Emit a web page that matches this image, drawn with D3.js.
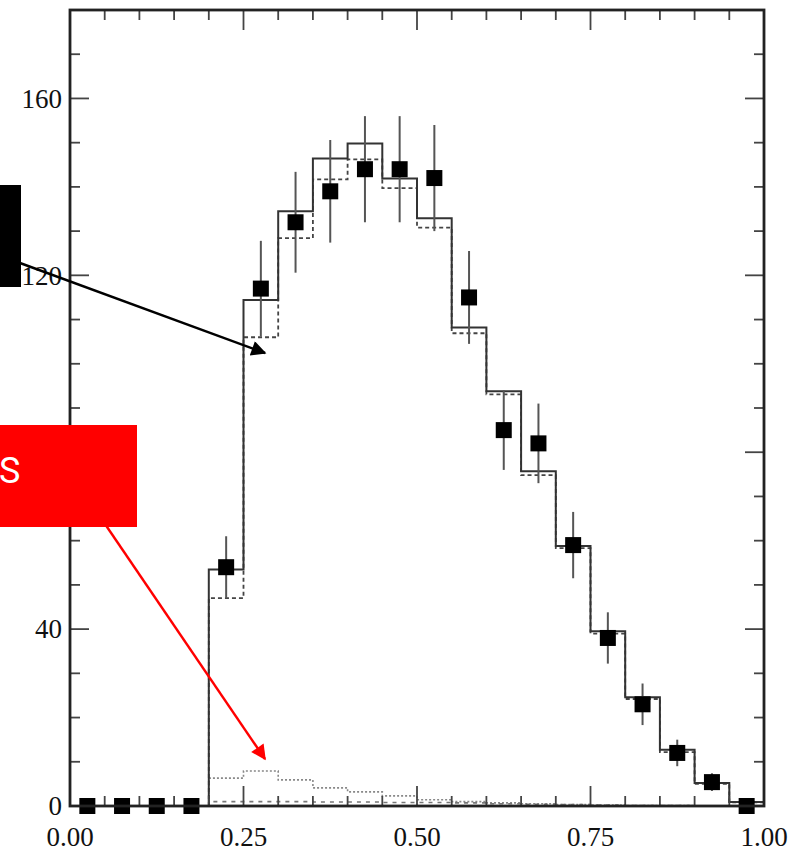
<!DOCTYPE html>
<html>
<head>
<meta charset="utf-8">
<script src="https://cdn.jsdelivr.net/npm/d3@7"></script>
<style>
  html, body { margin: 0; padding: 0; background: #fff; }
  svg { display: block; }
</style>
</head>
<body>
<svg id="chart" width="796" height="852"></svg>
<script>
// Bin lower edges (width 0.05) over [0, 1]
const binEdges = [0.00, 0.05, 0.10, 0.15, 0.20, 0.25, 0.30, 0.35, 0.40, 0.45,
                  0.50, 0.55, 0.60, 0.65, 0.70, 0.75, 0.80, 0.85, 0.90, 0.95];
const binWidth = 0.05;

// Measured counts per bin
const dataCounts = [0, 0, 0, 0, 54, 117, 132, 139, 144, 144,
                    142, 115, 85, 82, 59, 38, 23, 12, 5.4, 0];
const dataErrors = [0, 0, 0, 0, 7, 10.8, 11.4, 11.6, 12, 12,
                    12, 10.5, 9, 9, 7.5, 5.8, 4.7, 3, 2, 0];

// Total prediction (solid)
const totalPred = [0, 0, 0, 0, 53.5, 114.4, 134.5, 146.4, 149.8, 141.9,
                   132.9, 108.2, 93.8, 75.7, 58.8, 39.5, 24.6, 12.7, 5.2, 0.9];
// Signal prediction (dashed)
const signalPred = [0, 0, 0, 0, 47, 106, 128.4, 141.7, 146.2, 139.7,
                    130.8, 106.9, 93.1, 74.8, 58.3, 39, 24.2, 12.2, 5, 0.8];
// Background component (dotted)
const bkgPred = [0, 0, 0, 0, 6.3, 7.9, 5.9, 4.1, 3.2, 2.3,
                 1.4, 1.0, 0.7, 0.5, 0.3, 0.2, 0.1, 0.1, 0.05, 0];
// Small secondary component (dashed, near zero)
const bkg2Pred = [0, 0, 0, 0, 1.0, 1.0, 1.0, 0.9, 0.9, 0.8,
                  0.8, 0.7, 0.5, 0.4, 0.3, 0.2, 0.1, 0.1, 0, 0];

const xTickLabels = ["0.00", "0.25", "0.50", "0.75", "1.00"];
const yTickValues = [0, 40, 80, 120, 160];

const svg = d3.select("#chart");
const plotL = 70, plotR = 764, plotT = 10, plotB = 806;

const x = d3.scaleLinear().domain([0, 1]).range([plotL, plotR]);
const y = d3.scaleLinear().domain([0, 180]).range([plotB, plotT]);

const frameColor = "#222";
const labelFont = "'Liberation Serif', 'Times New Roman', serif";

// Step outline for a histogram, starting from the first non-empty bin
function stepPoints(values) {
  const first = values.findIndex(v => v > 0);
  const pts = [[binEdges[first], 0]];
  for (let i = first; i < values.length; i++) pts.push([binEdges[i], values[i]]);
  pts.push([1.0, values[values.length - 1]]);
  pts.push([1.0, 0]);
  return pts;
}
const stepLine = d3.line()
  .x(d => x(d[0]))
  .y(d => y(d[1]))
  .curve(d3.curveStepAfter);

const hist = svg.append("g").attr("fill", "none");

hist.append("path")
  .attr("d", stepLine(stepPoints(bkgPred)))
  .attr("stroke", "#888")
  .attr("stroke-width", 1.6)
  .attr("stroke-dasharray", "2,2");

hist.append("path")
  .attr("d", stepLine(stepPoints(bkg2Pred)))
  .attr("stroke", "#777")
  .attr("stroke-width", 1.6)
  .attr("stroke-dasharray", "4,5");

hist.append("path")
  .attr("d", stepLine(stepPoints(signalPred)))
  .attr("stroke", "#444")
  .attr("stroke-width", 1.8)
  .attr("stroke-dasharray", "4,3");

hist.append("path")
  .attr("d", stepLine(stepPoints(totalPred)))
  .attr("stroke", "#333")
  .attr("stroke-width", 2);

// Data points with error bars
const pts = svg.append("g");
binEdges.forEach((e, i) => {
  const cx = x(e + binWidth / 2);
  if (dataErrors[i] > 0) {
    pts.append("line")
      .attr("x1", cx).attr("x2", cx)
      .attr("y1", y(dataCounts[i] - dataErrors[i]))
      .attr("y2", y(dataCounts[i] + dataErrors[i]))
      .attr("stroke", "#555")
      .attr("stroke-width", 2);
  }
  pts.append("rect")
    .attr("x", cx - 8).attr("y", y(dataCounts[i]) - 8)
    .attr("width", 16).attr("height", 16)
    .attr("fill", "#000");
});

// Frame with inward ticks on all four sides
const axes = svg.append("g").attr("stroke", frameColor);
const xMinor = d3.range(0, 21).map(i => i * 0.05);
const yMinor = d3.range(0, 19).map(i => i * 10);

xMinor.forEach(v => {
  const major = Math.round(v * 100) % 25 === 0;
  const len = major ? 20 : 10;
  if (v === 0 || v === 1) return;
  axes.append("line").attr("x1", x(v)).attr("x2", x(v))
    .attr("y1", plotB).attr("y2", plotB - len).attr("stroke-width", 1.8).attr("stroke", "#444");
  axes.append("line").attr("x1", x(v)).attr("x2", x(v))
    .attr("y1", plotT).attr("y2", plotT + len).attr("stroke-width", 1.8).attr("stroke", "#444");
});
yMinor.forEach(v => {
  const major = v % 40 === 0;
  const len = major ? 19 : 10;
  if (v === 0) return;
  axes.append("line").attr("x1", plotL).attr("x2", plotL + len)
    .attr("y1", y(v)).attr("y2", y(v)).attr("stroke-width", 1.8).attr("stroke", "#444");
  axes.append("line").attr("x1", plotR).attr("x2", plotR - len)
    .attr("y1", y(v)).attr("y2", y(v)).attr("stroke-width", 1.8).attr("stroke", "#444");
});

axes.append("rect")
  .attr("x", plotL).attr("y", plotT)
  .attr("width", plotR - plotL).attr("height", plotB - plotT)
  .attr("fill", "none")
  .attr("stroke-width", 2.8);

// Tick labels
const labels = svg.append("g")
  .attr("font-family", labelFont)
  .attr("font-size", 27)
  .attr("fill", "#111");

xTickLabels.forEach(t => {
  labels.append("text")
    .attr("x", x(+t)).attr("y", 846)
    .attr("text-anchor", "middle")
    .text(t);
});
yTickValues.forEach(v => {
  labels.append("text")
    .attr("x", 62).attr("y", y(v))
    .attr("dy", "0.34em")
    .attr("text-anchor", "end")
    .text(String(v));
});

// Callouts
const defs = svg.append("defs");
function arrowMarker(id, color) {
  defs.append("marker")
    .attr("id", id)
    .attr("viewBox", "0 0 10 10")
    .attr("refX", 9).attr("refY", 5)
    .attr("markerWidth", 18).attr("markerHeight", 15)
    .attr("markerUnits", "userSpaceOnUse")
    .attr("orient", "auto")
    .append("path")
    .attr("d", "M0,0 L10,5 L0,10 Z")
    .attr("fill", color);
}
arrowMarker("arrow-black", "#000");
arrowMarker("arrow-red", "#f00");

svg.append("line")
  .attr("x1", 20).attr("y1", 263)
  .attr("x2", 265).attr("y2", 353)
  .attr("stroke", "#000").attr("stroke-width", 2.4)
  .attr("marker-end", "url(#arrow-black)");

svg.append("rect")
  .attr("x", 0).attr("y", 185)
  .attr("width", 21).attr("height", 102)
  .attr("fill", "#000");

svg.append("line")
  .attr("x1", 105).attr("y1", 524)
  .attr("x2", 265).attr("y2", 759)
  .attr("stroke", "#f00").attr("stroke-width", 2.4)
  .attr("marker-end", "url(#arrow-red)");

svg.append("rect")
  .attr("x", 0).attr("y", 425)
  .attr("width", 137).attr("height", 102)
  .attr("fill", "#f00");

svg.append("text")
  .attr("x", -1).attr("y", 483)
  .attr("font-family", "Roboto, 'Noto Sans', sans-serif")
  .attr("font-size", 36)
  .attr("fill", "#fff")
  .text("S");
</script>
</body>
</html>
